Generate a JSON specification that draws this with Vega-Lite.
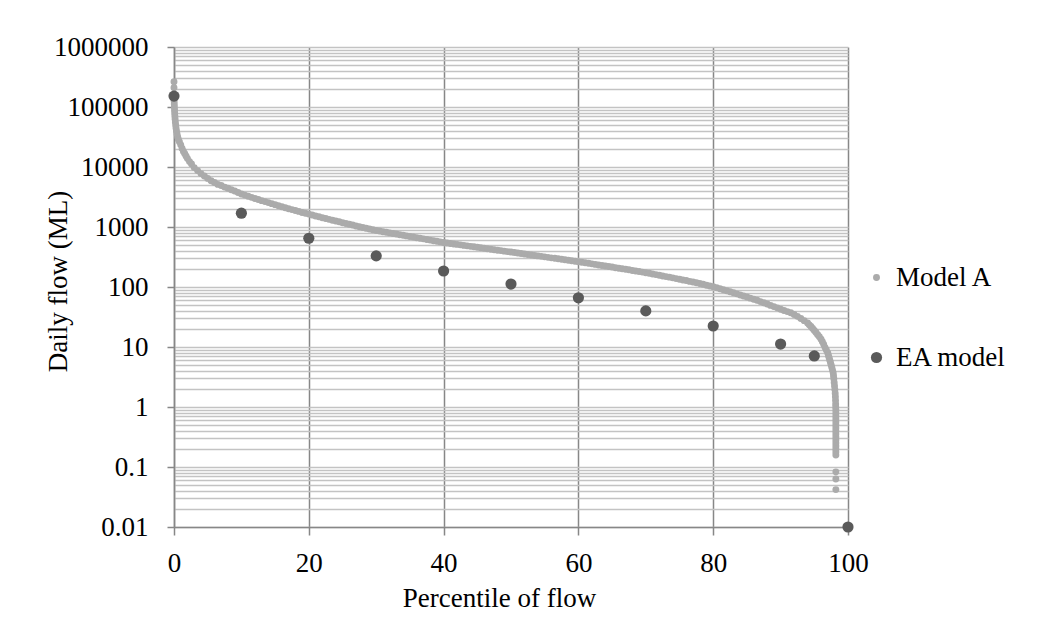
{
  "$schema": "https://vega.github.io/schema/vega-lite/v6.json",
  "width": 674,
  "height": 480,
  "autosize": {"type": "none"},
  "padding": {"left": 174, "top": 47, "right": 192, "bottom": 112},
  "background": "white",
  "config": {
    "view": {"stroke": null},
    "font": "Liberation Serif",
    "axis": {"labelFont": "Liberation Serif", "titleFont": "Liberation Serif", "labelColor": "#000000", "titleColor": "#000000", "titleFontWeight": "normal", "labelFontSize": 27, "titleFontSize": 27}
  },
  "data": {"values": [
    {"p":0,"f":263000,"s":"Model A"},{"p":0,"f":209000,"s":"Model A"},{"p":0,"f":141000,"s":"Model A"},{"p":0.02,"f":126000,"s":"Model A"},{"p":0.04,"f":112000,"s":"Model A"},{"p":0.06,"f":100000,"s":"Model A"},{"p":0.08,"f":89100,"s":"Model A"},{"p":0.1,"f":79400,"s":"Model A"},{"p":0.13,"f":70800,"s":"Model A"},{"p":0.16,"f":63100,"s":"Model A"},{"p":0.2,"f":56200,"s":"Model A"},{"p":0.25,"f":50100,"s":"Model A"},{"p":0.3,"f":44700,"s":"Model A"},{"p":0.37,"f":39800,"s":"Model A"},{"p":0.45,"f":35500,"s":"Model A"},{"p":0.55,"f":31600,"s":"Model A"},{"p":0.65,"f":28800,"s":"Model A"},{"p":0.8,"f":26300,"s":"Model A"},{"p":1,"f":23400,"s":"Model A"},{"p":1.2,"f":20400,"s":"Model A"},{"p":1.4,"f":18200,"s":"Model A"},{"p":1.6,"f":16600,"s":"Model A"},{"p":1.8,"f":15100,"s":"Model A"},{"p":2,"f":13800,"s":"Model A"},{"p":2.3,"f":12300,"s":"Model A"},{"p":2.6,"f":11200,"s":"Model A"},{"p":3,"f":9770,"s":"Model A"},{"p":3.5,"f":8710,"s":"Model A"},{"p":4,"f":7760,"s":"Model A"},{"p":4.5,"f":7080,"s":"Model A"},{"p":5,"f":6460,"s":"Model A"},{"p":5.5,"f":5890,"s":"Model A"},{"p":6,"f":5500,"s":"Model A"},{"p":6.5,"f":5130,"s":"Model A"},{"p":7,"f":4900,"s":"Model A"},{"p":7.5,"f":4620,"s":"Model A"},{"p":8,"f":4420,"s":"Model A"},{"p":8.5,"f":4170,"s":"Model A"},{"p":9,"f":3980,"s":"Model A"},{"p":9.5,"f":3760,"s":"Model A"},{"p":10,"f":3550,"s":"Model A"},
    {"p":10.5,"f":3400,"s":"Model A"},{"p":11,"f":3250,"s":"Model A"},{"p":11.5,"f":3120,"s":"Model A"},{"p":12,"f":2990,"s":"Model A"},{"p":12.5,"f":2870,"s":"Model A"},{"p":13,"f":2750,"s":"Model A"},{"p":13.5,"f":2650,"s":"Model A"},{"p":14,"f":2550,"s":"Model A"},{"p":14.5,"f":2450,"s":"Model A"},{"p":15,"f":2360,"s":"Model A"},{"p":15.5,"f":2260,"s":"Model A"},{"p":16,"f":2180,"s":"Model A"},{"p":16.5,"f":2100,"s":"Model A"},{"p":17,"f":2020,"s":"Model A"},{"p":17.5,"f":1950,"s":"Model A"},{"p":18,"f":1880,"s":"Model A"},{"p":18.5,"f":1820,"s":"Model A"},{"p":19,"f":1750,"s":"Model A"},{"p":19.5,"f":1690,"s":"Model A"},{"p":20,"f":1640,"s":"Model A"},
    {"p":20.5,"f":1580,"s":"Model A"},{"p":21,"f":1530,"s":"Model A"},{"p":21.5,"f":1480,"s":"Model A"},{"p":22,"f":1430,"s":"Model A"},{"p":22.5,"f":1390,"s":"Model A"},{"p":23,"f":1340,"s":"Model A"},{"p":23.5,"f":1300,"s":"Model A"},{"p":24,"f":1260,"s":"Model A"},{"p":24.5,"f":1220,"s":"Model A"},{"p":25,"f":1180,"s":"Model A"},{"p":25.5,"f":1140,"s":"Model A"},{"p":26,"f":1110,"s":"Model A"},{"p":26.5,"f":1080,"s":"Model A"},{"p":27,"f":1040,"s":"Model A"},{"p":27.5,"f":1010,"s":"Model A"},{"p":28,"f":984,"s":"Model A"},{"p":28.5,"f":955,"s":"Model A"},{"p":29,"f":927,"s":"Model A"},{"p":29.5,"f":900,"s":"Model A"},{"p":30,"f":875,"s":"Model A"},
    {"p":30.5,"f":855,"s":"Model A"},{"p":31,"f":836,"s":"Model A"},{"p":31.5,"f":817,"s":"Model A"},{"p":32,"f":798,"s":"Model A"},{"p":32.5,"f":780,"s":"Model A"},{"p":33,"f":762,"s":"Model A"},{"p":33.5,"f":745,"s":"Model A"},{"p":34,"f":728,"s":"Model A"},{"p":34.5,"f":711,"s":"Model A"},{"p":35,"f":695,"s":"Model A"},{"p":35.5,"f":679,"s":"Model A"},{"p":36,"f":664,"s":"Model A"},{"p":36.5,"f":649,"s":"Model A"},{"p":37,"f":634,"s":"Model A"},{"p":37.5,"f":619,"s":"Model A"},{"p":38,"f":605,"s":"Model A"},{"p":38.5,"f":592,"s":"Model A"},{"p":39,"f":578,"s":"Model A"},{"p":39.5,"f":565,"s":"Model A"},{"p":40,"f":552,"s":"Model A"},
    {"p":40.5,"f":542,"s":"Model A"},{"p":41,"f":532,"s":"Model A"},{"p":41.5,"f":522,"s":"Model A"},{"p":42,"f":513,"s":"Model A"},{"p":42.5,"f":504,"s":"Model A"},{"p":43,"f":494,"s":"Model A"},{"p":43.5,"f":485,"s":"Model A"},{"p":44,"f":476,"s":"Model A"},{"p":44.5,"f":468,"s":"Model A"},{"p":45,"f":459,"s":"Model A"},{"p":45.5,"f":451,"s":"Model A"},{"p":46,"f":443,"s":"Model A"},{"p":46.5,"f":435,"s":"Model A"},{"p":47,"f":427,"s":"Model A"},{"p":47.5,"f":419,"s":"Model A"},{"p":48,"f":411,"s":"Model A"},{"p":48.5,"f":404,"s":"Model A"},{"p":49,"f":396,"s":"Model A"},{"p":49.5,"f":389,"s":"Model A"},{"p":50,"f":382,"s":"Model A"},
    {"p":50.5,"f":375,"s":"Model A"},{"p":51,"f":368,"s":"Model A"},{"p":51.5,"f":361,"s":"Model A"},{"p":52,"f":355,"s":"Model A"},{"p":52.5,"f":348,"s":"Model A"},{"p":53,"f":342,"s":"Model A"},{"p":53.5,"f":336,"s":"Model A"},{"p":54,"f":330,"s":"Model A"},{"p":54.5,"f":324,"s":"Model A"},{"p":55,"f":318,"s":"Model A"},{"p":55.5,"f":312,"s":"Model A"},{"p":56,"f":306,"s":"Model A"},{"p":56.5,"f":301,"s":"Model A"},{"p":57,"f":295,"s":"Model A"},{"p":57.5,"f":290,"s":"Model A"},{"p":58,"f":284,"s":"Model A"},{"p":58.5,"f":279,"s":"Model A"},{"p":59,"f":274,"s":"Model A"},{"p":59.5,"f":269,"s":"Model A"},{"p":60,"f":264,"s":"Model A"},
    {"p":60.5,"f":259,"s":"Model A"},{"p":61,"f":254,"s":"Model A"},{"p":61.5,"f":248,"s":"Model A"},{"p":62,"f":243,"s":"Model A"},{"p":62.5,"f":238,"s":"Model A"},{"p":63,"f":233,"s":"Model A"},{"p":63.5,"f":229,"s":"Model A"},{"p":64,"f":224,"s":"Model A"},{"p":64.5,"f":219,"s":"Model A"},{"p":65,"f":215,"s":"Model A"},{"p":65.5,"f":210,"s":"Model A"},{"p":66,"f":206,"s":"Model A"},{"p":66.5,"f":202,"s":"Model A"},{"p":67,"f":198,"s":"Model A"},{"p":67.5,"f":194,"s":"Model A"},{"p":68,"f":189,"s":"Model A"},{"p":68.5,"f":185,"s":"Model A"},{"p":69,"f":181,"s":"Model A"},{"p":69.5,"f":177,"s":"Model A"},{"p":70,"f":173,"s":"Model A"},
    {"p":70.5,"f":169,"s":"Model A"},{"p":71,"f":165,"s":"Model A"},{"p":71.5,"f":161,"s":"Model A"},{"p":72,"f":157,"s":"Model A"},{"p":72.5,"f":153,"s":"Model A"},{"p":73,"f":149,"s":"Model A"},{"p":73.5,"f":146,"s":"Model A"},{"p":74,"f":142,"s":"Model A"},{"p":74.5,"f":138,"s":"Model A"},{"p":75,"f":135,"s":"Model A"},{"p":75.5,"f":131,"s":"Model A"},{"p":76,"f":128,"s":"Model A"},{"p":76.5,"f":124,"s":"Model A"},{"p":77,"f":121,"s":"Model A"},{"p":77.5,"f":118,"s":"Model A"},{"p":78,"f":114,"s":"Model A"},{"p":78.5,"f":111,"s":"Model A"},{"p":79,"f":107,"s":"Model A"},{"p":79.5,"f":104,"s":"Model A"},{"p":80,"f":101,"s":"Model A"},
    {"p":80.5,"f":97.3,"s":"Model A"},{"p":81,"f":93.5,"s":"Model A"},{"p":81.5,"f":90,"s":"Model A"},{"p":82,"f":86.5,"s":"Model A"},{"p":82.5,"f":83.2,"s":"Model A"},{"p":83,"f":80,"s":"Model A"},{"p":83.5,"f":76.9,"s":"Model A"},{"p":84,"f":73.8,"s":"Model A"},{"p":84.5,"f":70.8,"s":"Model A"},{"p":85,"f":67.9,"s":"Model A"},{"p":85.5,"f":65.2,"s":"Model A"},{"p":86,"f":62.5,"s":"Model A"},{"p":86.5,"f":60,"s":"Model A"},{"p":87,"f":57.1,"s":"Model A"},{"p":87.5,"f":54.5,"s":"Model A"},{"p":88,"f":51.9,"s":"Model A"},{"p":88.5,"f":49.4,"s":"Model A"},{"p":89,"f":47.1,"s":"Model A"},{"p":89.5,"f":44.9,"s":"Model A"},{"p":90,"f":42.7,"s":"Model A"},
    {"p":90.5,"f":40.7,"s":"Model A"},{"p":91,"f":38.9,"s":"Model A"},{"p":91.5,"f":37.2,"s":"Model A"},{"p":92,"f":34.7,"s":"Model A"},{"p":92.5,"f":32.4,"s":"Model A"},{"p":93,"f":29.9,"s":"Model A"},{"p":93.5,"f":27.5,"s":"Model A"},{"p":94,"f":25.1,"s":"Model A"},{"p":94.25,"f":23.4,"s":"Model A"},{"p":94.5,"f":21.9,"s":"Model A"},{"p":94.75,"f":20.4,"s":"Model A"},{"p":95,"f":18.8,"s":"Model A"},{"p":95.25,"f":17.4,"s":"Model A"},{"p":95.5,"f":16,"s":"Model A"},{"p":95.75,"f":14.8,"s":"Model A"},{"p":96,"f":13.5,"s":"Model A"},{"p":96.2,"f":12.2,"s":"Model A"},{"p":96.4,"f":11,"s":"Model A"},{"p":96.6,"f":9.77,"s":"Model A"},{"p":96.8,"f":8.81,"s":"Model A"},{"p":97,"f":7.94,"s":"Model A"},
    {"p":97.1,"f":7.24,"s":"Model A"},{"p":97.2,"f":6.61,"s":"Model A"},{"p":97.3,"f":6.03,"s":"Model A"},{"p":97.4,"f":5.5,"s":"Model A"},{"p":97.5,"f":5.01,"s":"Model A"},{"p":97.6,"f":4.57,"s":"Model A"},{"p":97.7,"f":4.12,"s":"Model A"},{"p":97.8,"f":3.72,"s":"Model A"},{"p":97.85,"f":3.31,"s":"Model A"},{"p":97.9,"f":2.95,"s":"Model A"},{"p":97.95,"f":2.57,"s":"Model A"},{"p":98,"f":2.24,"s":"Model A"},{"p":98.05,"f":1.95,"s":"Model A"},{"p":98.1,"f":1.7,"s":"Model A"},{"p":98.13,"f":1.48,"s":"Model A"},{"p":98.15,"f":1.29,"s":"Model A"},{"p":98.17,"f":1.12,"s":"Model A"},{"p":98.18,"f":1,"s":"Model A"},
    {"p":98.2,"f":0.891,"s":"Model A"},{"p":98.2,"f":0.794,"s":"Model A"},{"p":98.2,"f":0.708,"s":"Model A"},{"p":98.2,"f":0.631,"s":"Model A"},{"p":98.2,"f":0.562,"s":"Model A"},{"p":98.2,"f":0.501,"s":"Model A"},{"p":98.2,"f":0.447,"s":"Model A"},{"p":98.2,"f":0.398,"s":"Model A"},{"p":98.2,"f":0.355,"s":"Model A"},{"p":98.2,"f":0.316,"s":"Model A"},{"p":98.2,"f":0.282,"s":"Model A"},{"p":98.2,"f":0.251,"s":"Model A"},{"p":98.2,"f":0.224,"s":"Model A"},{"p":98.2,"f":0.2,"s":"Model A"},{"p":98.2,"f":0.178,"s":"Model A"},{"p":98.2,"f":0.158,"s":"Model A"},{"p":98.2,"f":0.083,"s":"Model A"},{"p":98.2,"f":0.063,"s":"Model A"},{"p":98.2,"f":0.042,"s":"Model A"},
    {"p":0,"f":152000,"s":"EA model"},{"p":10,"f":1700,"s":"EA model"},{"p":20,"f":650,"s":"EA model"},{"p":30,"f":330,"s":"EA model"},{"p":40,"f":185,"s":"EA model"},{"p":50,"f":112,"s":"EA model"},{"p":60,"f":66,"s":"EA model"},{"p":70,"f":40,"s":"EA model"},{"p":80,"f":22.4,"s":"EA model"},{"p":90,"f":11.2,"s":"EA model"},{"p":95,"f":7.1,"s":"EA model"},{"p":100,"f":0.01,"s":"EA model"}
  ]},
  "mark": {"type": "circle", "opacity": 1, "strokeWidth": 0, "clip": false},
  "encoding": {
    "x": {
      "field": "p", "type": "quantitative",
      "scale": {"domain": [0, 100], "nice": false, "zero": false},
      "axis": {
        "title": "Percentile of flow",
        "values": [0, 20, 40, 60, 80, 100],
        "grid": true, "gridColor": "#878787", "gridWidth": 1.5,
        "domainColor": "#878787", "domainWidth": 1.5,
        "tickColor": "#878787", "tickWidth": 1.5, "tickSize": 8,
        "labelPadding": 15, "labelFlush": false, "labelBound": false, "labelOverlap": false,
        "titleX": 325, "titleY": 79, "titleBaseline": "alphabetic", "titleAlign": "center"
      }
    },
    "y": {
      "field": "f", "type": "quantitative",
      "scale": {"type": "log", "domain": [0.01, 1000000], "nice": false},
      "axis": {
        "title": "Daily flow (ML)",
        "values": [0.01,0.02,0.03,0.04,0.05,0.06,0.07,0.08,0.09,0.1,0.2,0.3,0.4,0.5,0.6,0.7,0.8,0.9,1,2,3,4,5,6,7,8,9,10,20,30,40,50,60,70,80,90,100,200,300,400,500,600,700,800,900,1000,2000,3000,4000,5000,6000,7000,8000,9000,10000,20000,30000,40000,50000,60000,70000,80000,90000,100000,200000,300000,400000,500000,600000,700000,800000,900000,1000000],
        "labelExpr": "indexof([0.01,0.1,1,10,100,1000,10000,100000,1000000], datum.value) >= 0 ? format(datum.value, '~f') : ''",
        "tickOpacity": {"condition": {"test": "indexof([0.01,0.1,1,10,100,1000,10000,100000,1000000], datum.value) >= 0", "value": 1}, "value": 0},
        "grid": true, "gridColor": "#c3c3c3", "gridWidth": 1.5,
        "domainColor": "#878787", "domainWidth": 1.5,
        "tickColor": "#878787", "tickWidth": 1.5, "tickSize": 7,
        "labelPadding": 19, "labelOverlap": false, "labelFlush": false, "labelBound": false,
        "titleX": -116, "titleY": 234, "titleAngle": -90, "titleAlign": "center", "titleBaseline": "middle"
      }
    },
    "color": {
      "field": "s", "type": "nominal",
      "scale": {"domain": ["Model A", "EA model"], "range": ["#ababab", "#5a5a5a"]},
      "legend": {
        "title": null, "orient": "none", "legendX": 689, "legendY": 217,
        "symbolType": "circle", "labelFont": "Liberation Serif", "labelFontSize": 27, "labelColor": "#000000",
        "rowPadding": 52, "labelOffset": 6, "symbolStrokeWidth": 0, "symbolOpacity": 1, "padding": 0
      }
    },
    "size": {
      "field": "s", "type": "nominal",
      "scale": {"domain": ["Model A", "EA model"], "range": [48, 125]},
      "legend": {
        "title": null, "orient": "none", "legendX": 689, "legendY": 217,
        "symbolType": "circle", "labelFont": "Liberation Serif", "labelFontSize": 27, "labelColor": "#000000",
        "rowPadding": 52, "labelOffset": 6, "symbolStrokeWidth": 0, "symbolOpacity": 1, "padding": 0
      }
    }
  }
}
